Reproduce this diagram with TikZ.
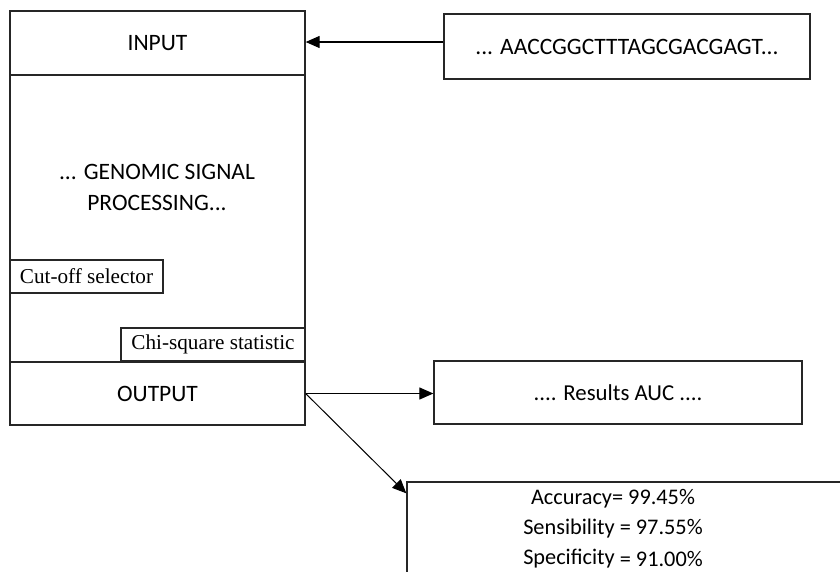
\documentclass[tikz,border=0pt]{standalone}
\usepackage{fontspec}
\setmainfont{Carlito}
\newfontfamily\serifbox{Liberation Serif}
\usetikzlibrary{arrows.meta,calc}
\begin{document}
\begin{tikzpicture}[x=1pt,y=-1pt,
  box/.style={draw=black!85,line width=1.3pt,inner sep=0pt,fill=white},
  small/.style={box,font=\serifbox\fontsize{21.2}{24}\selectfont},
  big/.style={font=\fontsize{23.5}{31}\selectfont,align=center},
  mid/.style={font=\fontsize{22.8}{30}\selectfont,align=center},
  arr/.style={line width=1.2pt,-{Triangle[length=14pt,width=12pt]}}]
\useasboundingbox (0,0) rectangle (840,571);
\node[box,minimum width=295pt,minimum height=287pt] (proc) at (157.5,218.5) {};
\node[box,minimum width=295pt,minimum height=64pt,big] (input) at (157.5,43) {INPUT};
\node[box,minimum width=295pt,minimum height=63pt,big] (output) at (157.5,393.5) {OUTPUT};
\node[big] (proctext) at (157,187) {... GENOMIC SIGNAL\\PROCESSING...};
\node[small,minimum width=153pt,minimum height=33pt] (cutoff) at (86.5,276.5) {Cut-off selector};
\node[small,minimum width=184pt,minimum height=33pt] (chi) at (213,344.5) {Chi-square statistic};
\node[box,minimum width=366pt,minimum height=65pt,big] (seq) at (627,46.5) {... AACCGGCTTTAGCGACGAGT...};
\node[box,minimum width=368pt,minimum height=63pt,mid] (results) at (618,392.5) {.... Results AUC ....};
\node[box,minimum width=460pt,minimum height=140pt] (metrics) at (637,552) {};
\node[mid,font=\fontsize{22.3}{30}\selectfont] (metricstext) at (613,529) {Accuracy= 99.45\%\\Sensibility = 97.55\%\\Specificity \raisebox{-1.5pt}{= 91.00\%}};
\draw[arr] (seq.west |- 0,42) -- (input.east |- 0,42);
\draw[arr] (output.east) -- (output.east -| results.west);
\draw[line width=1pt,-{Triangle[length=14pt,width=12pt]}] (output.east) -- ($(metrics.north west)+(0,12)$);
\end{tikzpicture}
\end{document}
